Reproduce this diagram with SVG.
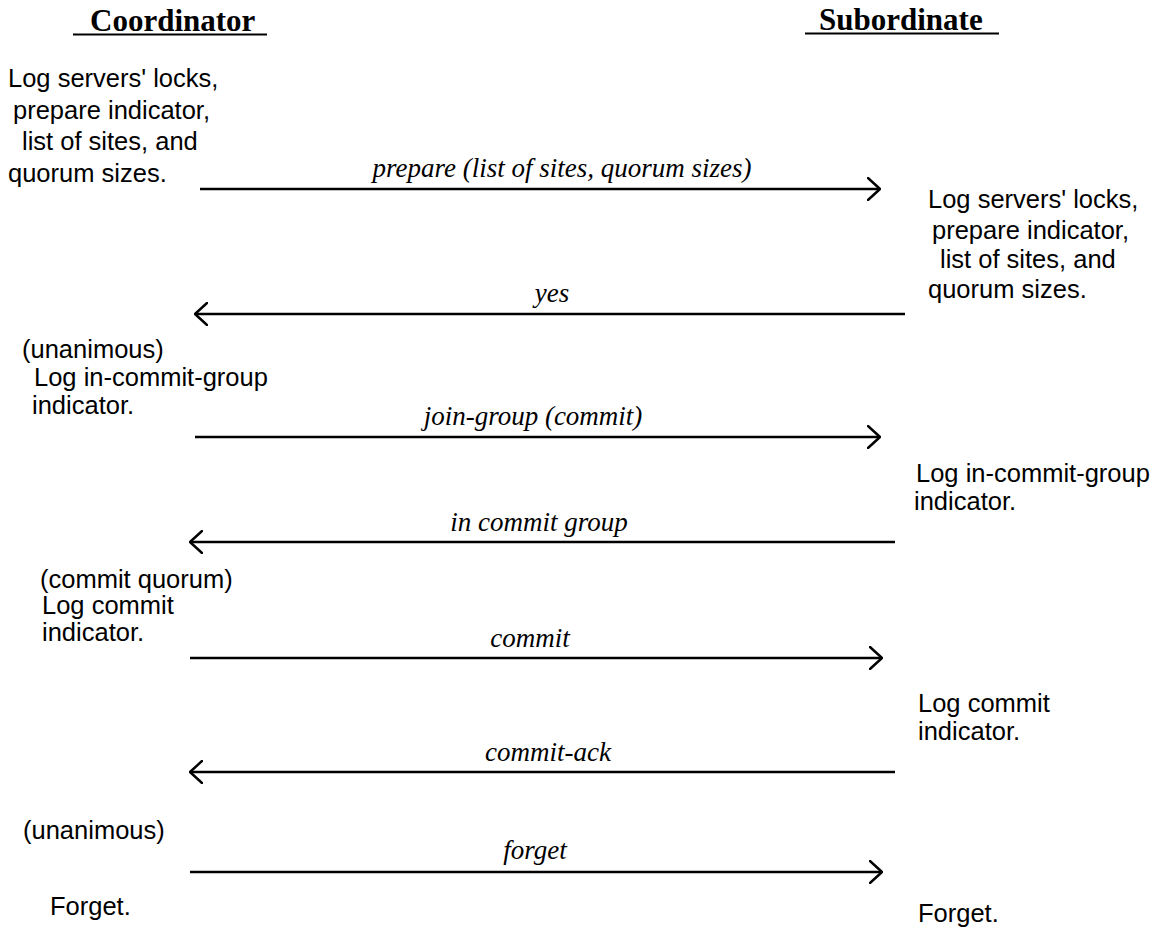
<svg xmlns="http://www.w3.org/2000/svg" width="1151" height="937" viewBox="0 0 1151 937">
  <defs>
    <marker id="head" viewBox="0 0 14 24" refX="13" refY="12" markerWidth="14" markerHeight="24" markerUnits="userSpaceOnUse" orient="auto-start-reverse">
      <path d="M1,1 L13,12 L1,23" fill="none" stroke="#000" stroke-width="2.4" stroke-linecap="round" stroke-linejoin="round"/>
    </marker>
    <style>
      .head { font-family: "Liberation Serif", "Times New Roman", serif; font-size: 31px; font-weight: bold; fill: #000; }
      .note { font-family: "Liberation Sans", Arial, sans-serif; font-size: 25.5px; fill: #000; }
      .msg { font-family: "Liberation Serif", "Times New Roman", serif; font-size: 27px; font-style: italic; fill: #000; text-anchor: middle; }
      .rule { stroke: #000; stroke-width: 2.2; }
      .arrow { stroke: #000; stroke-width: 2.6; fill: none; }
    </style>
  </defs>
  <rect width="1151" height="937" fill="#fff"/>

  <!-- column headings -->
  <g id="coordinator">
    <text class="head" x="90" y="31">Coordinator</text>
    <line class="rule" x1="73" y1="34.5" x2="267" y2="34.5"/>
  </g>
  <g id="subordinate">
    <text class="head" x="819" y="30">Subordinate</text>
    <line class="rule" x1="805" y1="33.5" x2="999" y2="33.5"/>
  </g>

  <!-- coordinator actions -->
  <g id="coord-prepare">
    <text class="note" x="8" y="87">Log servers' locks,</text>
    <text class="note" x="13" y="119">prepare indicator,</text>
    <text class="note" x="22" y="150">list of sites, and</text>
    <text class="note" x="8" y="182">quorum sizes.</text>
  </g>
  <g id="coord-group">
    <text class="note" x="22" y="358">(unanimous)</text>
    <text class="note" x="34" y="386">Log in-commit-group</text>
    <text class="note" x="32" y="414">indicator.</text>
  </g>
  <g id="coord-commit">
    <text class="note" x="40" y="588">(commit quorum)</text>
    <text class="note" x="42" y="614">Log commit</text>
    <text class="note" x="42" y="641">indicator.</text>
  </g>
  <g id="coord-unanimous">
    <text class="note" x="23" y="839">(unanimous)</text>
  </g>
  <g id="coord-forget">
    <text class="note" x="50" y="915">Forget.</text>
  </g>

  <!-- subordinate actions -->
  <g id="sub-prepare">
    <text class="note" x="928" y="208">Log servers' locks,</text>
    <text class="note" x="932" y="239">prepare indicator,</text>
    <text class="note" x="940" y="268">list of sites, and</text>
    <text class="note" x="928" y="298">quorum sizes.</text>
  </g>
  <g id="sub-group">
    <text class="note" x="916" y="482">Log in-commit-group</text>
    <text class="note" x="914" y="510">indicator.</text>
  </g>
  <g id="sub-commit">
    <text class="note" x="918" y="712">Log commit</text>
    <text class="note" x="918" y="740">indicator.</text>
  </g>
  <g id="sub-forget">
    <text class="note" x="918" y="922">Forget.</text>
  </g>

  <!-- messages -->
  <g id="connectors">
    <line class="arrow" x1="200" y1="189" x2="880" y2="189" marker-end="url(#head)"/>
    <line class="arrow" x1="905" y1="314" x2="195" y2="314" marker-end="url(#head)"/>
    <line class="arrow" x1="195" y1="437" x2="880" y2="437" marker-end="url(#head)"/>
    <line class="arrow" x1="895" y1="542" x2="190" y2="542" marker-end="url(#head)"/>
    <line class="arrow" x1="190" y1="658" x2="882" y2="658" marker-end="url(#head)"/>
    <line class="arrow" x1="895" y1="772" x2="190" y2="772" marker-end="url(#head)"/>
    <line class="arrow" x1="190" y1="872" x2="882" y2="872" marker-end="url(#head)"/>
  </g>
  <g id="labels">
    <text class="msg" x="562" y="177">prepare (list of sites, quorum sizes)</text>
    <text class="msg" x="552" y="302">yes</text>
    <text class="msg" x="533" y="425">join-group (commit)</text>
    <text class="msg" x="539" y="531">in commit group</text>
    <text class="msg" x="530" y="647">commit</text>
    <text class="msg" x="548" y="761">commit-ack</text>
    <text class="msg" x="535" y="859">forget</text>
  </g>
</svg>
